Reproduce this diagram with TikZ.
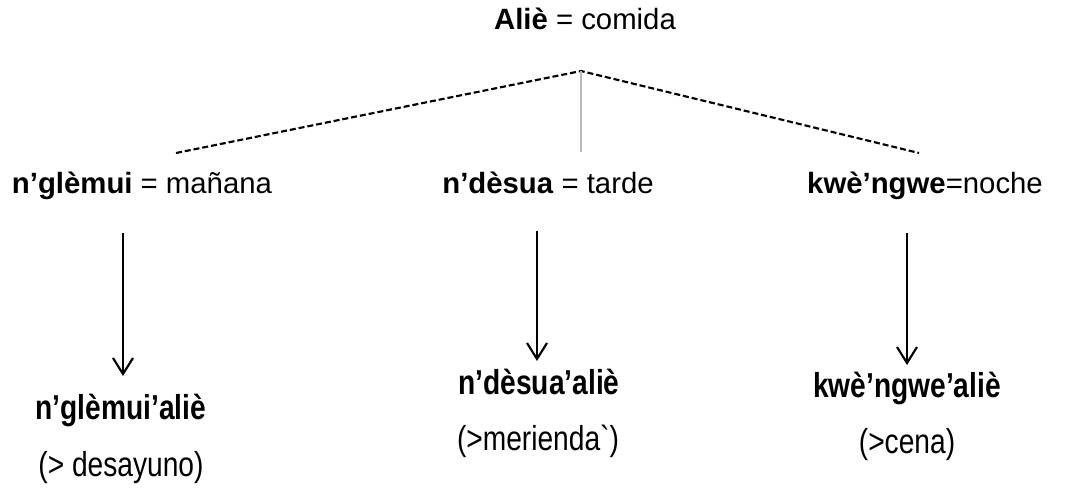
\documentclass[tikz,border=0pt]{standalone}
\usepackage{fontspec}
\setmainfont{Liberation Sans}
\usepackage{graphicx}
\usetikzlibrary{arrows.meta}
\newcommand{\tallt}[1]{\scalebox{0.96}[1.18]{#1}}
\begin{document}
\begin{tikzpicture}[x=0.75pt,y=-0.75pt,
  lbl/.style={inner sep=0pt,anchor=base,font=\fontsize{22}{26}\selectfont},
  tall/.style={lbl},
  dashline/.style={draw,line width=1.6pt,dash pattern=on 4.5pt off 2.2pt},
  gline/.style={draw,gray!55,line width=0.9pt},
  down/.style={draw,line width=1.6pt,-{Straight Barb[length=12pt,width=15pt,line width=1.6pt]}}]
\useasboundingbox (0,0) rectangle (1069,489);
\node[lbl] (top) at (585,29) {\textbf{Aliè} = comida};
\coordinate (apex) at (581,71);
\coordinate (lend) at (176,153);
\coordinate (rend) at (919,153);
\coordinate (mend) at (581,152);
\draw[dashline] (lend) -- (apex) -- (rend);
\draw[gline] (apex) -- (mend);
\node[lbl] (m1) at (142,193) {\textbf{n’glèmui} = mañana};
\node[lbl] (m2) at (548,193) {\textbf{n’dèsua} = tarde};
\node[lbl] (m3) at (925,193) {\textbf{kwè’ngwe}=noche};
\coordinate (a1s) at (123,233);
\coordinate (a1e) at (123,376);
\coordinate (a2s) at (537,231);
\coordinate (a2e) at (537,361);
\coordinate (a3s) at (907,233);
\coordinate (a3e) at (907,365);
\draw[down] (a1s) -- (a1e);
\draw[down] (a2s) -- (a2e);
\draw[down] (a3s) -- (a3e);
\node[tall] (b1) at (121,419) {\tallt{\textbf{n’glèmui’aliè}}};
\node[tall] (b2) at (539,394) {\tallt{\textbf{n’dèsua’aliè}}};
\node[tall] (b3) at (907,397) {\tallt{\textbf{kwè’ngwe’aliè}}};
\node[tall] (c1) at (121,476) {\tallt{(> desayuno)}};
\node[tall] (c2) at (538,450) {\tallt{(>merienda\textasciigrave)}};
\node[tall] (c3) at (907,453) {\tallt{(>cena)}};
\end{tikzpicture}
\end{document}
